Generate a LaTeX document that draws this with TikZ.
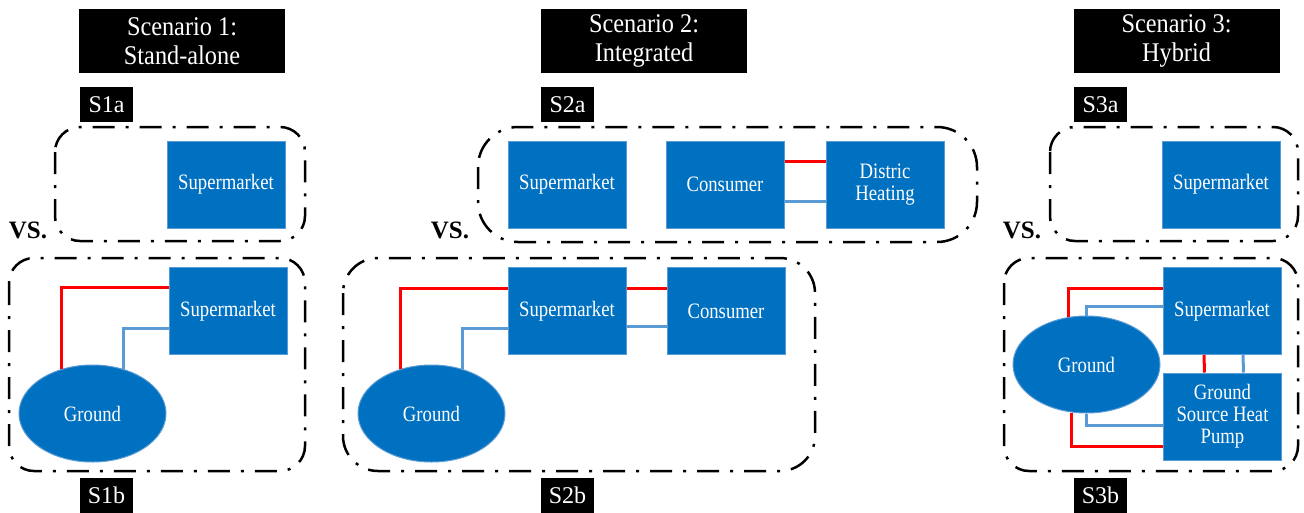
\documentclass[tikz,border=0pt]{standalone}
\usepackage{fontspec}
\setmainfont{Liberation Serif}
\newfontfamily\narrowfont[FakeStretch=0.85]{Liberation Serif}
\newfontfamily\headfont[FakeStretch=0.9]{Liberation Serif}
\usepackage{tikz}
\usetikzlibrary{shapes.geometric}

\definecolor{boxblue}{RGB}{0,112,192}
\definecolor{edgeblue}{RGB}{91,155,213}
\definecolor{pipered}{RGB}{255,0,0}
\definecolor{pipeblue}{RGB}{91,155,213}

\tikzset{
	plant/.style={rectangle, fill=boxblue, draw=edgeblue, line width=1pt, minimum width=118pt, minimum height=87pt, inner sep=2pt, text=white, align=center, font=\narrowfont\fontsize{22}{22}\selectfont},
	ground/.style={ellipse, fill=boxblue, draw=edgeblue, line width=1pt, minimum width=147pt, minimum height=97pt, inner sep=0pt, text=white, font=\narrowfont\fontsize{22}{22}\selectfont},
	headbox/.style={fill=black, text=white, minimum width=206pt, minimum height=64pt, align=center, font=\headfont\fontsize{27}{29}\selectfont},
	tagbox/.style={fill=black, text=white, minimum width=53pt, minimum height=35pt, inner sep=0pt, font=\fontsize{24}{24}\selectfont},
	vs/.style={font=\bfseries\fontsize{25}{25}\selectfont},
	zone/.style={draw=black, line width=2.5pt, rounded corners=#1, dash pattern=on 22pt off 11pt on 3pt off 11pt},
	zone/.default=25pt,
	hot/.style={draw=pipered, line width=3pt},
	cold/.style={draw=pipeblue, line width=3pt},
}

\begin{document}
\begin{tikzpicture}[x=1pt, y=-1pt]
	\useasboundingbox (0,0) rectangle (1304,512);

	% headers and tags
	\node[headbox] (h1) at (182,41) {Scenario 1:\\Stand-alone};
	\node[headbox] (h2) at (644,41) {Scenario 2:\\Integrated};
	\node[headbox] (h3) at (1176.5,41) {Scenario 3:\\Hybrid};
	\node[tagbox] (t1a) at (106.5,104.5) {S1a};
	\node[tagbox] (t2a) at (567.5,104.5) {S2a};
	\node[tagbox] (t3a) at (1100.5,104.5) {S3a};
	\node[tagbox] (t1b) at (106.5,495.5) {S1b};
	\node[tagbox] (t2b) at (567.5,495.5) {S2b};
	\node[tagbox] (t3b) at (1100.5,495.5) {S3b};
	\node[vs] (vs1) at (28,230) {VS.};
	\node[vs] (vs2) at (450,230) {VS.};
	\node[vs] (vs3) at (1022,230) {VS.};

	% dash-dot frames
	\draw[zone] (55,127) rectangle (305,241);
	\draw[zone] (9,258) rectangle (305,471);
	\draw[zone=40pt] (478,127) rectangle (977,242);
	\draw[zone=35pt] (343,258) rectangle (815,471);
	\draw[zone] (1050,127) rectangle (1298,241);
	\draw[zone] (1004,258) rectangle (1298,471);

	% scenario 1
	\node[plant] (sm1a) at (226,184.5) {Supermarket};
	\node[plant] (sm1b) at (228,311) {Supermarket};
	\node[ground] (g1) at (92.5,413.5) {Ground};
	\draw[hot] (g1.125) |- ([yshift=24pt]sm1b.west);
	\draw[cold] (g1.55) |- ([yshift=-17pt]sm1b.west);

	% scenario 2
	\node[plant] (sm2a) at (567,184.5) {Supermarket};
	\node[plant] (con2a) at (725,184.5) {Consumer};
	\node[plant] (dh2a) at (885,184.5) {Distric\\Heating};
	\draw[hot] ([yshift=23pt]con2a.east) -- ([yshift=23pt]dh2a.west);
	\draw[cold] ([yshift=-17pt]con2a.east) -- ([yshift=-17pt]dh2a.west);

	\node[plant] (sm2b) at (567,311) {Supermarket};
	\node[plant] (con2b) at (726,311) {Consumer};
	\node[ground] (g2) at (431.5,413.5) {Ground};
	\draw[hot] (g2.125) |- ([yshift=23pt]sm2b.west);
	\draw[cold] (g2.55) |- ([yshift=-17pt]sm2b.west);
	\draw[hot] ([yshift=23pt]sm2b.east) -- ([yshift=23pt]con2b.west);
	\draw[cold] ([yshift=-15pt]sm2b.east) -- ([yshift=-15pt]con2b.west);

	% scenario 3
	\node[plant] (sm3a) at (1221,184.5) {Supermarket};
	\node[plant] (sm3b) at (1222,311) {Supermarket};
	\node[plant] (hp) at (1222.5,416.5) {Ground\\Source Heat\\Pump};
	\node[ground] (g3) at (1086.5,364.5) {Ground};
	\draw[hot] (g3.111) |- ([yshift=23pt]sm3b.west);
	\draw[cold] (g3.north) |- ([yshift=5pt]sm3b.west);
	\draw[hot] (g3.253) |- ([yshift=-30pt]hp.west);
	\draw[cold] (g3.south) |- ([yshift=-9pt]hp.west);
	\draw[hot] ([xshift=-18pt]sm3b.south) -- ([xshift=-18pt]hp.north);
	\draw[cold] ([xshift=21pt]sm3b.south) -- ([xshift=21pt]hp.north);
\end{tikzpicture}
\end{document}
